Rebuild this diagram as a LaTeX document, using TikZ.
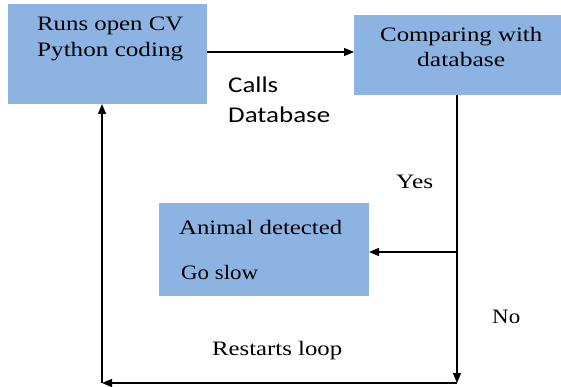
\documentclass[tikz,border=0pt]{standalone}
\usepackage{fontspec}
\usepackage{graphicx}
\setmainfont{Liberation Serif}
\newfontfamily\labelfont{Carlito}
\usetikzlibrary{arrows.meta}
\definecolor{boxblue}{HTML}{8DB3E2}
% widen a piece of text to a given width, keeping its height
\newcommand{\fitwide}[2]{\resizebox{#1}{\height}{#2}}
\begin{document}
\begin{tikzpicture}[x=1pt,y=-1pt,
  stepbox/.style={fill=boxblue,draw=none,inner sep=0pt},
  flow/.style={draw=black,line width=1.3pt,-{Triangle[length=10pt,width=8pt]}},
  serifnote/.style={font=\fontsize{20.5}{24}\selectfont,inner sep=0pt,anchor=base west},
  sansnote/.style={font=\labelfont\fontsize{22.5}{26}\selectfont,inner sep=0pt,anchor=base west}]
\useasboundingbox (0,0) rectangle (561,387);
% boxes
\path[stepbox] (8,4) rectangle (207,104);
\node[serifnote] (run1) at (37,31) {\fitwide{146pt}{Runs open CV}};
\node[serifnote] (run2) at (37,57) {\fitwide{146pt}{Python coding}};
\coordinate (runR) at (207,52);
\coordinate (runB) at (102,104);
\path[stepbox] (354,15) rectangle (561,95);
\node[serifnote] (cmp1) at (380,42) {\fitwide{162pt}{Comparing with}};
\node[serifnote] (cmp2) at (417,67) {\fitwide{88pt}{database}};
\coordinate (cmpL) at (354,52);
\coordinate (cmpB) at (457,95);
\path[stepbox] (159,203) rectangle (369,296);
\node[serifnote] (ani) at (179,234) {\fitwide{163pt}{Animal detected}};
\node[serifnote] (slow) at (181,279) {\fitwide{77pt}{Go slow}};
\coordinate (aniR) at (369,252);
% junctions of the loop
\coordinate (branch) at (457,252);
\coordinate (cornerR) at (457,383);
\coordinate (cornerL) at (102,383);
% connectors
\draw[flow] (runR) -- (cmpL);
\draw[line width=1.3pt] (cmpB) -- (branch);
\draw[flow] (branch) -- (aniR);
\draw[flow] (branch) -- (cornerR);
\draw[flow] (cornerR) -- (cornerL);
\draw[flow] (cornerL) -- (runB);
% labels
\node[sansnote] (calls) at (228,93) {\fitwide{50pt}{Calls}};
\node[sansnote] (db) at (228,123) {\fitwide{102pt}{Database}};
\node[serifnote] (yes) at (396,189) {\fitwide{37pt}{Yes}};
\node[serifnote] (no) at (492,323) {\fitwide{28pt}{No}};
\node[serifnote] (rl) at (212,355) {\fitwide{130pt}{Restarts loop}};
\end{tikzpicture}
\end{document}
